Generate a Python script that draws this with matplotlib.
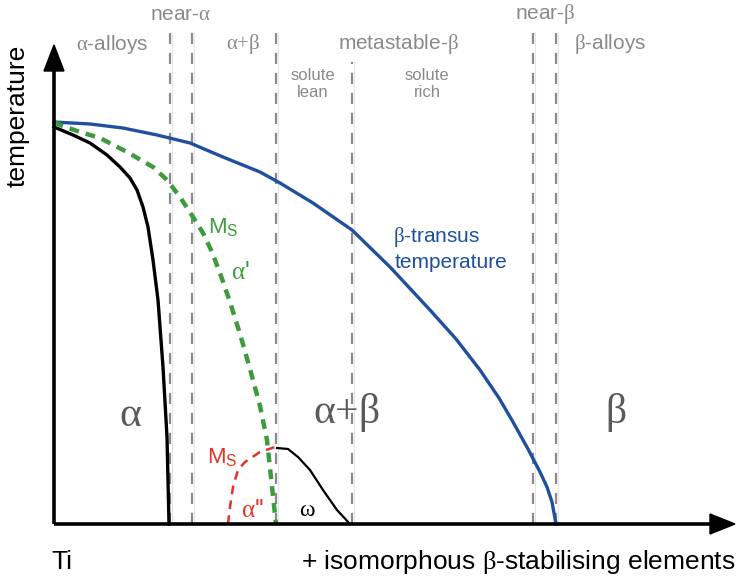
import numpy as np
import matplotlib.pyplot as plt

plt.rcParams['font.family'] = ['Liberation Sans', 'DejaVu Sans']
plt.rcParams['mathtext.fontset'] = 'custom'
plt.rcParams['mathtext.rm'] = 'Liberation Serif'
plt.rcParams['mathtext.sf'] = 'Liberation Sans'

# schematic data (composition, temperature) in arbitrary units

beta_transus_x = [0, 36, 69, 103, 136, 169, 206, 226, 259, 298, 336, 376, 402, 426, 445, 459, 474, 486, 493, 498, 502]
beta_transus_t = [402, 400, 396, 389, 381, 367, 352, 341, 321, 294, 257, 214, 185, 154, 126, 102, 75, 52, 37, 22, 0]

alpha_x = [0, 19, 36, 53, 66, 76, 83, 89, 94, 99, 104, 109, 113, 115]
alpha_t = [397, 389, 381, 369, 357, 346, 334, 317, 297, 264, 224, 157, 87, 0]

ms_alpha1_x = [0, 6, 26, 46, 73, 99, 113, 126, 139, 149, 158, 167, 176, 186, 196, 206, 213, 222]
ms_alpha1_t = [402, 399, 392, 386, 372, 357, 344, 327, 307, 291, 272, 248, 222, 190, 155, 118, 84, 0]

ms_alpha2_x = [174, 176, 179, 184, 191, 206, 221]
ms_alpha2_t = [0, 17, 37, 54, 62, 72, 77]

omega_x = [223, 234, 244, 256, 269, 283, 296]
omega_t = [76, 75, 67, 54, 34, 14, 0]

# alloy class boundaries
boundaries = [116, 138, 222, 298, 479, 502]
boundary_tops = [491, 491, 491, 462, 491, 491]

blue = '#1f4f9e'
green = '#3c9c3c'
red = '#e53226'
grey = '#8a8a8a'

fig = plt.figure(figsize=(7.41, 5.82), dpi=100)
ax = fig.add_axes([0, 0, 1, 1])
ax.set_xlim(-54, 687)
ax.set_ylim(-58, 524)
ax.axis('off')

for x, top in zip(boundaries, boundary_tops):
    ax.plot([x + 2, x + 2], [0, top], color='#e4e4e4', lw=0.8, zorder=1)
    ax.plot([x, x], [0, top], color=grey, lw=1.6, dashes=(5, 4), zorder=2)

ax.plot(beta_transus_x, beta_transus_t, color=blue, lw=2.4, zorder=4)
ax.plot(alpha_x, alpha_t, color='black', lw=2.4, zorder=4)
ax.plot(ms_alpha1_x, ms_alpha1_t, color=green, lw=3.2, dashes=(2.2, 1.6), zorder=4)
ax.plot(ms_alpha2_x, ms_alpha2_t, color=red, lw=1.8, dashes=(3.5, 2.5), zorder=4)
ax.plot(omega_x, omega_t, color='black', lw=1.6, zorder=4)

# axes with arrows
ax.plot([0, 0], [0, 455], color='black', lw=2.6, zorder=5, solid_capstyle='butt')
ax.plot([0, 660], [0, 0], color='black', lw=2.6, zorder=5, solid_capstyle='butt')
ax.fill([-10, 10, 0], [453, 453, 479], color='black', zorder=5)
ax.fill([656, 656, 681], [-10, 10, 0], color='black', zorder=5)

# axis labels
ax.text(-36, 408, 'temperature', rotation=90, ha='center', va='center', fontsize=19)
ax.text(8, -38, 'Ti', ha='center', va='center', fontsize=19)
ax.text(681, -38, r'+ isomorphous $\mathrm{\beta}$-stabilising elements',
        ha='right', va='center', fontsize=19)

# phase fields
ax.text(76, 109, r'$\mathrm{\alpha}$', ha='center', va='center', fontsize=30, color='#5a5a5a')
ax.text(292, 112, r'$\mathrm{\alpha{+}\beta}$', ha='center', va='center', fontsize=30, color='#5a5a5a')
ax.text(562, 112, r'$\mathrm{\beta}$', ha='center', va='center', fontsize=30, color='#5a5a5a')

ax.text(169, 296, r'M$_\mathsf{S}$', ha='center', va='center', fontsize=16, color=green)
ax.text(186, 252, r"$\mathrm{\alpha}$'", ha='center', va='center', fontsize=18, color=green)
ax.text(339, 287, r'$\mathrm{\beta}$-transus', ha='left', va='center', fontsize=15, color=blue)
ax.text(341, 262, 'temperature', ha='left', va='center', fontsize=15, color=blue)
ax.text(168, 66, r'M$_\mathsf{S}$', ha='center', va='center', fontsize=16, color=red)
ax.text(199, 14, r"$\mathrm{\alpha}$''", ha='center', va='center', fontsize=18, color=red)
ax.text(253, 14, r'$\mathrm{\omega}$', ha='center', va='center', fontsize=17, color='black')

# alloy classes
ax.text(127, 510, r'near-$\mathrm{\alpha}$', ha='center', va='center', fontsize=15, color=grey)
ax.text(58, 480, r'$\mathrm{\alpha}$-alloys', ha='center', va='center', fontsize=15, color=grey)
ax.text(189, 480, r'$\mathrm{\alpha{+}\beta}$', ha='center', va='center', fontsize=15, color=grey)
ax.text(344, 480, r'metastable-$\mathrm{\beta}$', ha='center', va='center', fontsize=15, color=grey)
ax.text(491, 510, r'near-$\mathrm{\beta}$', ha='center', va='center', fontsize=15, color=grey)
ax.text(556, 480, r'$\mathrm{\beta}$-alloys', ha='center', va='center', fontsize=15, color=grey)
ax.text(259, 440, 'solute\nlean', ha='center', va='center', fontsize=12, color=grey, linespacing=1.15)
ax.text(373, 440, 'solute\nrich', ha='center', va='center', fontsize=12, color=grey, linespacing=1.15)

fig.savefig('out.png', dpi=100)
